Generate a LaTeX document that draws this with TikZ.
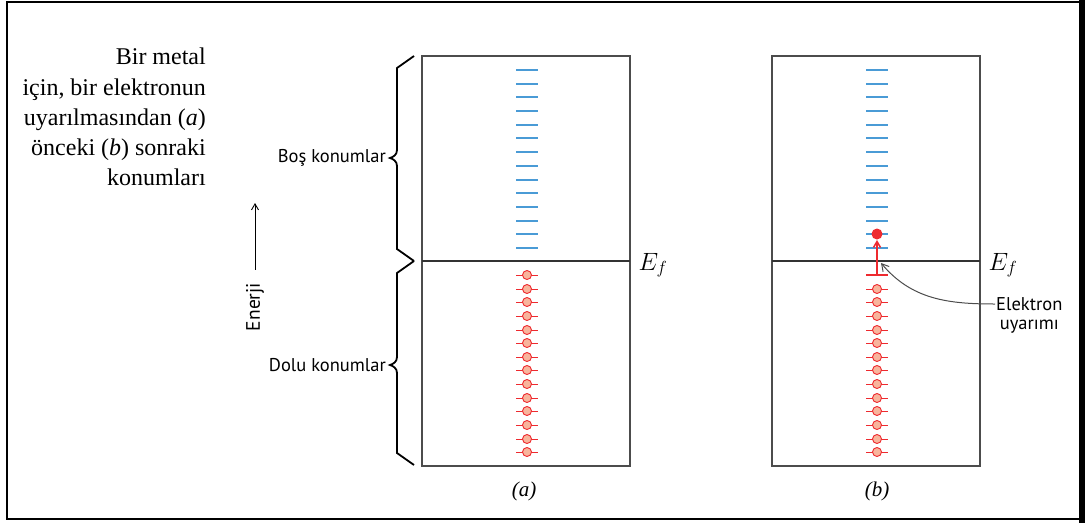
\documentclass[tikz,border=0pt]{standalone}
\usepackage{fix-cm}
\usepackage{fontspec}
\setmainfont{Liberation Serif}
\setsansfont{PT Sans}
\usetikzlibrary{arrows.meta, positioning}
\definecolor{lvlblue}{HTML}{4A9BD6}
\definecolor{elred}{HTML}{EE2A2F}
\definecolor{elfill}{HTML}{F8B49C}
\tikzset{
  panel/.style={draw=black!70, line width=1.3pt},
  fermi/.style={draw=black!80, line width=1.2pt},
  empty/.style={lvlblue, line width=1.5pt},
  full/.style={elred, line width=0.9pt},
  elec/.style={draw=elred, fill=elfill, line width=0.9pt},
  brc/.style={line width=1.8pt, line join=miter},
  lbl/.style={font=\sffamily\fontsize{18.5}{22}\selectfont, inner sep=1pt},
  arr/.style={-{Straight Barb[length=6pt,width=7pt]}, line width=0.9pt},
  note/.style={-{Straight Barb[length=7pt,width=8pt]}, draw=black!70, line width=1pt}
}
\begin{document}
\begin{tikzpicture}[x=1pt, y=-1pt]
    \useasboundingbox (0,0) rectangle (1085,523);
    \draw[line width=2pt] (7,2) rectangle (1080,519);
    \fill (1079,0) rectangle (1085,523);

    \node[align=right, anchor=north east, inner sep=0pt, font=\fontsize{24}{30.2}\selectfont] (cap) at (206,48)
      {Bir metal\\için, bir elektronun\\uyarılmasından (\textit{a})\\önceki (\textit{b}) sonraki\\konumları};

    \node[lbl, rotate=90, font=\sffamily\fontsize{19.5}{22}\selectfont] (en) at (255,307) {Enerji};
    \coordinate (etop) at (255,203);
    \draw[arr, shorten <=12pt] (en.east) -- (etop);

    \draw[brc] (414,56) -- (397,68) -- (397,150) .. controls (397,155) and (393,157) .. (390,158)
      .. controls (393,159) and (397,161) .. (397,166) -- (397,249) -- (414,261);
    \draw[brc] (414,261) -- (397,273) -- (397,357) .. controls (397,362) and (393,364) .. (390,365)
      .. controls (393,366) and (397,368) .. (397,373) -- (397,453) -- (414,465);
    \node[lbl, anchor=east] (bos) at (387,158) {Boş konumlar};
    \node[lbl, anchor=east] (dolu) at (387,365) {Dolu konumlar};

    \foreach \cx in {527,877} {
      \draw[panel] (\cx-105,56) rectangle (\cx+103,466);
      \draw[fermi] (\cx-105,261) -- (\cx+103,261);
      \foreach \i in {0,...,13}
        \draw[empty] (\cx-11,{round(70+13.69*\i)}) -- (\cx+11,{round(70+13.69*\i)});
      \foreach \i in {1,...,13} {
        \draw[full] (\cx-11,{round(275+13.64*\i)}) -- (\cx+11,{round(275+13.64*\i)});
        \draw[elec] (\cx,{round(275+13.64*\i)}) circle (4.5);
      }
    }
    \draw[full] (516,275) -- (538,275);
    \draw[elec] (527,275) circle (4.5);
    \draw[full, line width=1.5pt] (866,275) -- (888,275);
    \draw[full, arr, line width=1.5pt] (877,275) -- (877,240);
    \fill[elred] (877,234) circle (5.5);

    \node[anchor=base west, font=\fontsize{25}{28}\selectfont] (efa) at (635,270) {$E_f$};
    \node[anchor=base west, font=\fontsize{25}{28}\selectfont] (efb) at (985,270) {$E_f$};

    \node[lbl, anchor=west] (el1) at (995,304) {Elektron};
    \node[lbl, below=7pt of el1] (el2) {uyarımı};
    \coordinate (exc) at (881,263);
    \draw[note] (el1.west) to[out=180, in=-50] (exc);

    \node[font=\itshape\fontsize{21}{24}\selectfont] (la) at (524,491) {(a)};
    \node[font=\itshape\fontsize{21}{24}\selectfont] (lb) at (877,491) {(b)};
  \end{tikzpicture}
\end{document}
